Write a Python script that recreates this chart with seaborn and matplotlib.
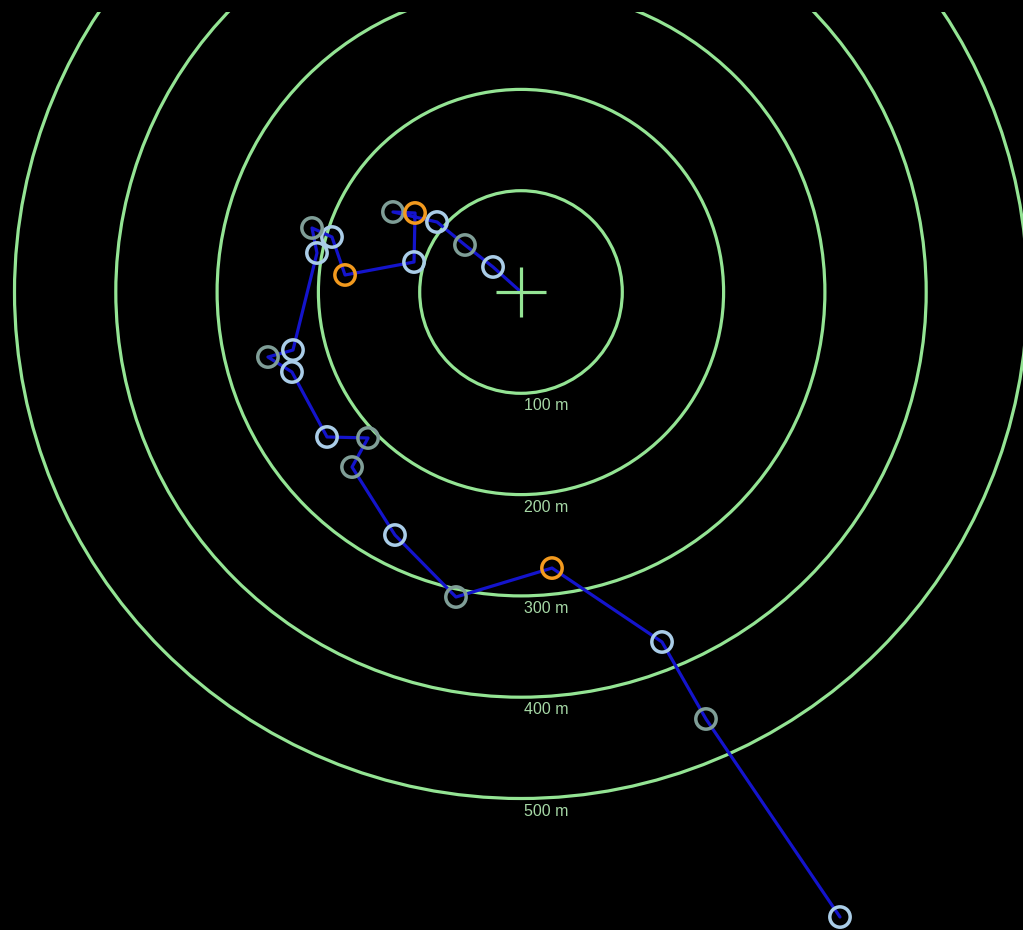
import matplotlib.pyplot as plt
import matplotlib.patches as mpatches
import pandas as pd
import seaborn as sns

# track positions in metres relative to the target (x east, y north)
track_x = [0.0, -27.6, -55.3, -82.9, -126.4, -104.6, -105.6, -173.7, -186.6, -206.3,
           -201.4, -225.1, -249.8, -226.1, -191.5, -151.0, -166.8, -124.4, -64.2,
           30.6, 139.2, 182.6, 314.9]
track_y = [0.0, 24.7, 46.4, 69.1, 79.0, 78.0, 29.6, 16.8, 54.3, 63.2,
           38.5, -57.3, -64.2, -79.0, -143.1, -144.1, -172.8, -239.9, -301.1,
           -272.5, -345.5, -421.5, -617.0]
# fix quality of each point (first point is the target itself, no marker)
fix_kind = [None, 'good', 'fair', 'good', 'fair', 'poor', 'good', 'poor', 'good', 'fair',
            'good', 'good', 'fair', 'good', 'good', 'fair', 'fair', 'good', 'fair',
            'poor', 'good', 'fair', 'good']
ring_radii = [100, 200, 300, 400, 500]
ring_labels = ['100 m', '200 m', '300 m', '400 m', '500 m']

kind_colors = {'good': '#aacde8', 'fair': '#7f9e97', 'poor': '#f39a1e'}
ring_color = '#94e494'

df = pd.DataFrame({'x': track_x, 'y': track_y, 'kind': fix_kind})

sns.set_style('dark')
plt.rcParams['font.family'] = ['Liberation Sans', 'DejaVu Sans']

fig = plt.figure(figsize=(10.23, 9.3), dpi=100, facecolor='black')
ax = fig.add_axes([0, 0, 1, 918 / 930])
ax.set_facecolor('black')

# range rings
for r, lab in zip(ring_radii, ring_labels):
    ax.add_patch(mpatches.Circle((0, 0), r, fill=False, edgecolor=ring_color, lw=2.3, zorder=1))
    ax.text(3, -r - 5, lab, color='#a6d8a6', fontsize=11.5, ha='left', va='top', zorder=1)

# track line
sns.lineplot(data=df, x='x', y='y', sort=False, estimator=None, color='#1414cc',
             lw=2.3, ax=ax, zorder=2)

# centre cross
ax.plot([-25, 25], [0, 0], color=ring_color, lw=2.3, zorder=3, solid_capstyle='butt')
ax.plot([0, 0], [-25, 25], color=ring_color, lw=2.3, zorder=3, solid_capstyle='butt')

# hollow ring markers
pts = df.dropna(subset=['kind'])
sns.scatterplot(data=pts, x='x', y='y', hue='kind', palette=kind_colors, s=215,
                legend=False, ax=ax, zorder=4)
coll = ax.collections[-1]
coll.set_edgecolors(coll.get_facecolors())
coll.set_facecolors('none')
coll.set_linewidths(2.5)

ax.set_xlim((0 - 521) / 1.013, (1023 - 521) / 1.013)
ax.set_ylim((292 - 930) / 1.013, (292 - 12) / 1.013)
ax.set_aspect('equal')
ax.axis('off')

fig.savefig('out.png', dpi=100, facecolor='black')
